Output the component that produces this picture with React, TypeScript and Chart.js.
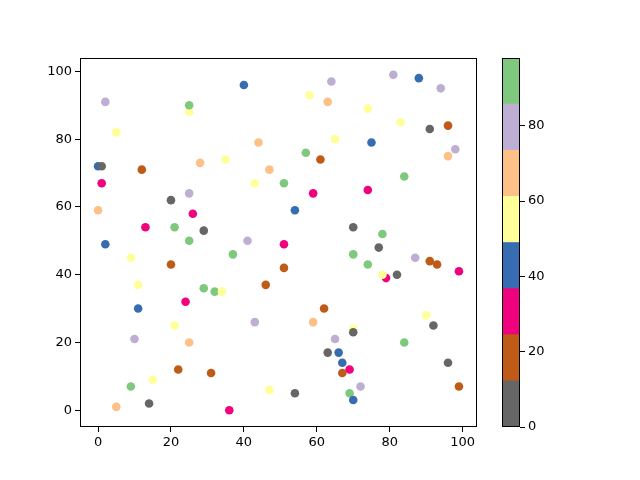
import { useRef, useEffect } from "react";
import { Chart, registerables } from "chart.js";

Chart.register(...registerables);

// Point positions
const xValues = [
  40, 2, 25, 25, 5, 44, 0, 1, 12, 28, 35, 47, 1, 43, 25, 20, 0, 26, 13, 21, 29, 2, 25, 41,
  81, 88, 64, 94, 58, 63, 74, 83, 91, 96, 65, 75, 98, 96, 57, 61, 51, 59, 74, 84, 54, 70, 78, 51, 77,
  9, 20, 37, 11, 29, 32, 34, 46, 24, 11, 43, 21, 10, 25, 22, 31, 15, 9, 47, 14, 5, 36,
  70, 87, 91, 93, 99, 51, 74, 79, 78, 82, 62, 59, 90, 92, 70, 70, 65, 84, 63, 66, 67, 67, 69, 96, 72, 99, 54, 69, 70,
];
const yValues = [
  96, 91, 88, 90, 82, 79, 72, 72, 71, 73, 74, 71, 67, 67, 64, 62, 59, 58, 54, 54, 53, 49, 50, 50,
  99, 98, 97, 95, 93, 91, 89, 85, 83, 84, 80, 79, 77, 75, 76, 74, 67, 64, 65, 69, 59, 54, 52, 49, 48,
  45, 43, 46, 37, 36, 35, 35, 37, 32, 30, 26, 25, 21, 20, 12, 11, 9, 7, 6, 2, 1, 0,
  46, 45, 44, 43, 41, 42, 43, 39, 40, 40, 30, 26, 28, 25, 24, 23, 21, 20, 17, 17, 14, 11, 12, 14, 7, 7, 5, 5, 3,
];
// Colour values (estimated from the colour bins)
const cValues = [
  43, 80, 55, 92, 55, 67, 43, 6, 18, 67, 55, 67, 30, 55, 80, 6, 67, 30, 30, 92, 6, 43, 92, 80,
  80, 43, 80, 80, 55, 67, 55, 55, 6, 18, 55, 43, 80, 67, 92, 18, 92, 30, 30, 92, 43, 6, 92, 30, 6,
  55, 18, 92, 55, 92, 92, 55, 18, 30, 43, 80, 55, 80, 67, 18, 18, 55, 92, 55, 6, 67, 30,
  92, 80, 18, 18, 30, 18, 92, 30, 55, 6, 18, 67, 55, 6, 55, 6, 80, 92, 6, 43, 43, 18, 30, 6, 80, 18, 6, 92, 43,
];

const cMin = 0;
const cMax = 98;
const colorTicks = [0, 20, 40, 60, 80];
const axisTicks = [0, 20, 40, 60, 80, 100];

// Accent colormap, reversed
const accentR = ["#666666", "#bf5b17", "#f0027f", "#386cb0", "#ffff99", "#fdc086", "#beaed4", "#7fc97f"];

function colorFor(v: number) {
  const t = (v - cMin) / (cMax - cMin);
  const i = Math.min(accentR.length - 1, Math.max(0, Math.floor(t * accentR.length)));
  return accentR[i];
}

const font = { family: "DejaVu Sans", size: 13 };

const frame = {
  id: "frame",
  afterDraw(chart: any) {
    const { ctx, chartArea: a } = chart;
    ctx.save();
    ctx.strokeStyle = "#000";
    ctx.lineWidth = 1;
    ctx.strokeRect(a.left + 0.5, a.top + 0.5, a.right - a.left - 1, a.bottom - a.top - 1);
    ctx.restore();
  },
};

export default function App() {
  const mainRef = useRef<HTMLCanvasElement>(null);
  const barRef = useRef<HTMLCanvasElement>(null);

  useEffect(() => {
    document.body.style.margin = "0";
    if (!mainRef.current || !barRef.current) return;

    const points = xValues.map((x, i) => ({ x, y: yValues[i] }));

    const tickAxis = (pos: "bottom" | "left") => ({
      type: "linear" as const,
      position: pos,
      min: -4.95,
      max: 103.95,
      afterBuildTicks: (s: any) => {
        s.ticks = axisTicks.map((v) => ({ value: v }));
      },
      afterFit: (s: any) => {
        if (pos === "left") s.width = 40;
        else s.height = 30;
      },
      ticks: { color: "#000", font, padding: 3, autoSkip: false },
      grid: { drawOnChartArea: false, drawTicks: true, tickLength: 5, color: "#000" },
      border: { display: false },
    });

    const main = new Chart(mainRef.current, {
      type: "scatter",
      data: {
        datasets: [
          {
            data: points,
            backgroundColor: cValues.map(colorFor),
            pointRadius: 4.3,
            pointBorderWidth: 0,
            borderWidth: 0,
          },
        ],
      },
      options: {
        animation: false,
        responsive: false,
        layout: { padding: { left: 40, top: 58, right: 163, bottom: 23 } },
        plugins: { legend: { display: false }, tooltip: { enabled: false } },
        scales: { x: tickAxis("bottom"), y: tickAxis("left") },
      },
      plugins: [frame],
    });

    const binSize = (cMax - cMin) / accentR.length;
    const bar = new Chart(barRef.current, {
      type: "bar",
      data: {
        labels: [""],
        datasets: accentR.map((c) => ({
          data: [binSize],
          backgroundColor: c,
          borderWidth: 0,
          barPercentage: 1,
          categoryPercentage: 1,
        })),
      },
      options: {
        animation: false,
        responsive: false,
        layout: { padding: { left: 22, top: 58, right: 80, bottom: 53 } },
        plugins: { legend: { display: false }, tooltip: { enabled: false } },
        scales: {
          x: { stacked: true, display: false },
          y: {
            stacked: true,
            position: "right",
            min: cMin,
            max: cMax,
            afterBuildTicks: (s: any) => {
              s.ticks = colorTicks.map((v) => ({ value: v }));
            },
            afterFit: (s: any) => {
              s.width = 40;
            },
            ticks: { color: "#000", font, padding: 3 },
            grid: { drawOnChartArea: false, drawTicks: true, tickLength: 5, color: "#000" },
            border: { display: false },
          },
        },
      },
      plugins: [frame],
    });

    return () => {
      main.destroy();
      bar.destroy();
    };
  }, []);

  return (
    <div style={{ position: "relative", width: 640, height: 480, background: "#fff" }}>
      <canvas ref={mainRef} width={640} height={480} style={{ position: "absolute", left: 0, top: 0 }} />
      <canvas ref={barRef} width={160} height={480} style={{ position: "absolute", left: 480, top: 0 }} />
    </div>
  );
}
